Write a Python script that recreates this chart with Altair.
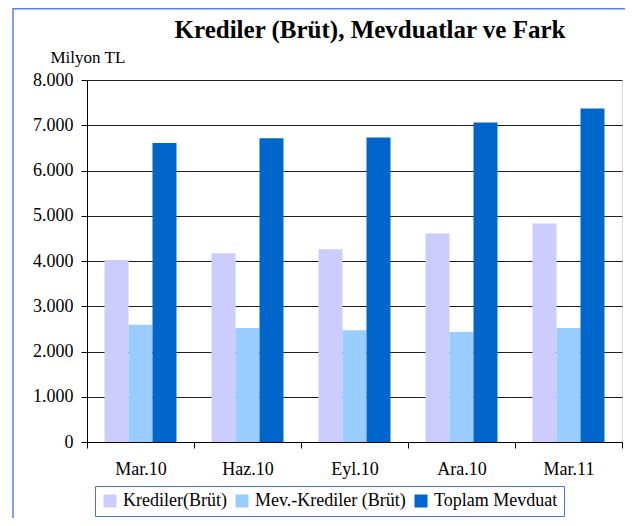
import altair as alt
import pandas as pd

categories = ["Mar.10", "Haz.10", "Eyl.10", "Ara.10", "Mar.11"]
series = ["Krediler(Brüt)", "Mev.-Krediler (Brüt)", "Toplam Mevduat"]
krediler = [4020, 4170, 4260, 4610, 4830]
mev_krediler = [2590, 2520, 2470, 2430, 2520]
toplam = [6610, 6710, 6730, 7060, 7370]
colors = ["#CCCCFF", "#99CCFF", "#0066CC"]
y_ticks = [0, 1000, 2000, 3000, 4000, 5000, 6000, 7000, 8000]
title_text = "Krediler (Brüt), Mevduatlar ve Fark"
unit_text = "Milyon TL"

rows = []
for vals, s in zip([krediler, mev_krediler, toplam], series):
    for c, v in zip(categories, vals):
        rows.append({"cat": c, "series": s, "value": v})
df = pd.DataFrame(rows)

FONT = "Liberation Serif, Times New Roman, serif"

bars = alt.Chart(df).mark_bar().encode(
    x=alt.X("cat:N", sort=categories, title=None,
            scale=alt.Scale(paddingInner=0, paddingOuter=0),
            axis=alt.Axis(labelAngle=0, tickBand="extent", tickSize=6,
                          tickColor="black", domainColor="black",
                          labelFont=FONT, labelFontSize=18, labelColor="black",
                          labelPadding=12, grid=False)),
    xOffset=alt.XOffset("series:N", sort=series,
                        scale=alt.Scale(paddingInner=0, paddingOuter=0.73)),
    y=alt.Y("value:Q", scale=alt.Scale(domain=[0, 8000], nice=False),
            axis=alt.Axis(values=y_ticks, title=unit_text, titleAngle=0,
                          titleX=-37, titleY=-18, titleAlign="left",
                          titleBaseline="alphabetic", titleFont=FONT,
                          titleFontSize=17, titleFontWeight="normal",
                          titleColor="black",
                          labelExpr="replace(format(datum.value, ','), ',', '.')",
                          labelFont=FONT, labelFontSize=18, labelColor="black",
                          labelPadding=8, tickSize=6, tickColor="black",
                          domainColor="black", grid=True, gridColor="#222222",
                          gridWidth=1)),
    color=alt.Color("series:N", sort=series,
                    scale=alt.Scale(domain=series, range=colors),
                    legend=alt.Legend(title=None, orient="none", legendX=8,
                                      legendY=406, direction="horizontal",
                                      columns=3, symbolType="square",
                                      symbolSize=169, symbolStrokeWidth=0,
                                      labelFont=FONT, labelFontSize=18,
                                      labelColor="black", labelOffset=4,
                                      columnPadding=6, padding=6,
                                      strokeColor="#4A6FF0", fillColor="white")),
)

one = alt.Data(values=[{"a": 1}])

title = alt.Chart(one).mark_text(
    text=title_text, font=FONT, fontSize=25, fontWeight="bold",
    align="center", baseline="alphabetic", color="black"
).encode(x=alt.value(283), y=alt.value(-42))

frame_left = alt.Chart(one).mark_rule(color="#5A7CF0", strokeWidth=1.5).encode(
    x=alt.value(-74), y=alt.value(-72), y2=alt.value(600))
frame_top = alt.Chart(one).mark_rule(color="#5A7CF0", strokeWidth=1.5).encode(
    x=alt.value(-74), x2=alt.value(700), y=alt.value(-71.2))

chart = alt.layer(bars, title, frame_left, frame_top).properties(
    width=535, height=362,
    autosize=alt.AutoSizeParams(type="none"),
    padding={"left": 79, "top": 72, "right": 3, "bottom": 76},
).configure_view(stroke="black", strokeWidth=1).configure(background="white")

chart.save("out.html", embed_options={"renderer": "svg", "actions": False})
